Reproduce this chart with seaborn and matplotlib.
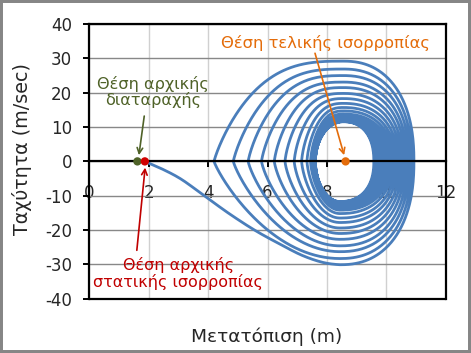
import numpy as np
import pandas as pd
import seaborn as sns
import matplotlib
matplotlib.use("Agg")
import matplotlib.pyplot as plt
from matplotlib.patches import Rectangle

# ---------------- data ----------------
# first pass, from the initial static equilibrium down to the first bottom
start_x = [1.87, 2.4, 3.06, 3.9, 4.74, 5.6, 6.42, 7.2, 7.9]
start_v = [0.0, -2.0, -5.0, -10.2, -15.4, -20.2, -24.1, -27.5, -29.5]

# per-loop extremes of the spiral (bottom -> right -> top -> left)
bottom_v = [-30.1, -28.3, -26.3, -24.6, -22.7, -21.0, -19.4, -17.8, -16.5, -15.2,
            -14.2, -13.4, -12.8, -12.4, -12.1, -11.95, -11.85, -11.8, -11.75, -11.7]
right_x = [10.93, 10.85, 10.77, 10.69, 10.61, 10.53, 10.45, 10.37, 10.29, 10.21,
           10.13, 10.05, 9.97, 9.9, 9.83, 9.76, 9.7, 9.65, 9.61, 9.58]
top_v = [29.2, 26.9, 25.0, 23.1, 21.5, 19.8, 18.3, 16.9, 15.7, 14.7,
         13.8, 13.1, 12.6, 12.2, 11.95, 11.8, 11.7, 11.65, 11.6, 11.55]
left_x = [4.2, 4.85, 5.35, 5.8, 6.23, 6.59, 6.9, 7.15, 7.33, 7.45,
          7.52, 7.56, 7.58, 7.59, 7.6, 7.6, 7.61, 7.61, 7.61, 7.61]
top_x = 8.55
bottom_x = 8.44

# marked positions
point_x = [1.62, 1.87, 8.63]
point_v = [0.0, 0.0, 0.0]
point_names = ["Θέση αρχικής\nδιαταραχής",
               "Θέση αρχικής\nστατικής ισορροπίας",
               "Θέση τελικής ισορροπίας"]

x_ticks = [0, 2, 4, 6, 8, 10, 12]
y_ticks = [-40, -30, -20, -10, 0, 10, 20, 30, 40]

# ---------------- outline of one quarter of a loop ----------------
S = np.sin(np.linspace(0, np.pi / 2, 120))  # fraction of the height


def quarter(x0, x_ext, v_ext, a, b):
    """From the axis crossing x_ext (v=0) to the extreme v_ext at x0."""
    u = (1 - S ** b) ** (1 / a)
    return x0 + (x_ext - x0) * u, v_ext * S


# first pass: smooth line through the read points
sx, sy = 29.7, 3.43
P = np.column_stack([start_x + [bottom_x], start_v + [bottom_v[0]]]) * [sx, sy]
P = np.vstack([2 * P[0] - P[1], P, [(bottom_x + 0.4) * sx, bottom_v[0] * sy]])
seg = []
for i in range(1, len(P) - 2):
    p0, p1, p2, p3 = P[i - 1], P[i], P[i + 1], P[i + 2]
    t0 = 0.0
    t1 = t0 + np.linalg.norm(p1 - p0) ** 0.5
    t2 = t1 + np.linalg.norm(p2 - p1) ** 0.5
    t3 = t2 + np.linalg.norm(p3 - p2) ** 0.5
    t = np.linspace(t1, t2, 20, endpoint=False)[:, None]
    A1 = (t1 - t) / (t1 - t0) * p0 + (t - t0) / (t1 - t0) * p1
    A2 = (t2 - t) / (t2 - t1) * p1 + (t - t1) / (t2 - t1) * p2
    A3 = (t3 - t) / (t3 - t2) * p2 + (t - t2) / (t3 - t2) * p3
    B1 = (t2 - t) / (t2 - t0) * A1 + (t - t0) / (t2 - t0) * A2
    B2 = (t3 - t) / (t3 - t1) * A2 + (t - t1) / (t3 - t1) * A3
    seg.append((t2 - t) / (t2 - t1) * B1 + (t - t1) / (t2 - t1) * B2)
first = np.vstack(seg) / [sx, sy]
xs, vs = [first[:, 0]], [first[:, 1]]

n = len(bottom_v)
for k in range(n):
    w = k / (n - 1)
    a_up = 2.9 * (1 - w) + 2.0 * w
    a_lo = 2.0
    b_left = 1.15 * (1 - w) + 2.0 * w
    B, R, T, L = bottom_v[k], right_x[k], top_v[k], left_x[k]
    qx, qv = quarter(bottom_x, R, B, 2.3, 2.3)          # bottom -> right
    xs.append(qx[::-1]); vs.append(qv[::-1])
    qx, qv = quarter(top_x, R, T, 2.3, 2.3)             # right -> top
    xs.append(qx); vs.append(qv)
    qx, qv = quarter(top_x, L, T, a_up, b_left)         # top -> left
    xs.append(qx[::-1]); vs.append(qv[::-1])
    if k + 1 < n:
        qx, qv = quarter(bottom_x, L, bottom_v[k + 1], a_lo, b_left)  # left -> bottom
        xs.append(qx); vs.append(qv)

df = pd.DataFrame({"x": np.concatenate(xs), "v": np.concatenate(vs)})

# ---------------- plotting ----------------
sns.set_style("white")
plt.rcParams["font.family"] = ["DejaVu Sans"]
plt.rcParams["axes.unicode_minus"] = False

fig = plt.figure(figsize=(4.71, 3.53), dpi=100)
ax = fig.add_axes([0.1896, 0.1538, 0.7567, 0.778])

ax.set_xlim(0, 12)
ax.set_ylim(-40, 40)
ax.set_xticks(x_ticks)
ax.set_yticks(y_ticks)
ax.yaxis.grid(True, color="#888888", lw=1.0)
ax.xaxis.grid(True, color="#D0D0D0", lw=1.0)
ax.set_axisbelow(True)

sns.lineplot(data=df, x="x", y="v", sort=False, estimator=None,
             color="#4A7EBB", lw=2.0, ax=ax, zorder=3)

dot_colors = ["#4F6228", "#D00000", "#E46C0A"]
sns.scatterplot(x=point_x, y=point_v, hue=[0, 1, 2], palette=dot_colors,
                s=36, edgecolor="none", legend=False, ax=ax, zorder=5)

for sp in ["top", "right", "left", "bottom"]:
    ax.spines[sp].set_color("black")
    ax.spines[sp].set_linewidth(1.6)
    ax.spines[sp].set_visible(True)
ax.spines["bottom"].set_position(("data", 0))
ax.spines["bottom"].set_zorder(4)
ax.axhline(-40, color="black", lw=1.6, clip_on=False, zorder=4)

ax.tick_params(axis="y", direction="out", length=4, width=1.4, pad=8.5,
               labelsize=12, left=True, color="black")
ax.tick_params(axis="x", direction="out", length=4, width=1.4, pad=12.5,
               labelsize=12, bottom=True, color="black")
ax.set_xlabel("")
ax.set_ylabel("")

fig.text(0.567, 0.045, "Μετατόπιση (m)", ha="center", va="center", fontsize=13.3)
fig.text(0.047, 0.578, "Ταχύτητα (m/sec)", ha="center", va="center",
         fontsize=13.8, rotation=90)

arrow = dict(arrowstyle="->", lw=1.2, shrinkA=0, shrinkB=0,
             mutation_scale=10)
ax.annotate(point_names[0], xy=(1.69, 1.8), xytext=(2.14, 20.2),
            ha="center", va="center", color="#4F6228", fontsize=11.6,
            linespacing=1.05)
ax.annotate("", xy=(1.67, 1.8), xytext=(1.85, 13.2),
            arrowprops=dict(arrow, color="#4F6228"))
ax.annotate(point_names[1], xy=(1.88, -1.6), xytext=(3.0, -32.6),
            ha="center", va="center", color="#C00000", fontsize=11.5,
            linespacing=1.05, annotation_clip=False)
ax.annotate("", xy=(1.88, -1.8), xytext=(1.6, -25.9),
            arrowprops=dict(arrow, color="#C00000"))
ax.text(7.94, 34.4, point_names[2], ha="center", va="center",
        color="#E46C0A", fontsize=11.8)
ax.annotate("", xy=(8.58, 1.8), xytext=(7.6, 31.5),
            arrowprops=dict(arrow, color="#E46C0A"))

fig.patches.append(Rectangle((0, 0), 1, 1, transform=fig.transFigure,
                             fill=False, edgecolor="#868686", lw=4.3))

fig.savefig("out.png", dpi=100)
